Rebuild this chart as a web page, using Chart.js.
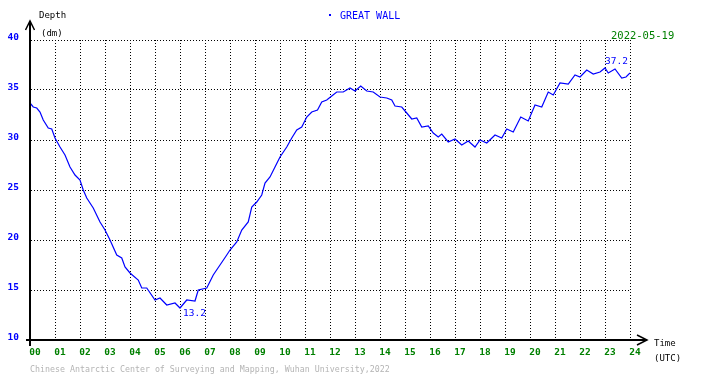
<!DOCTYPE html>
<html lang="en">
  <head>
    <meta charset="UTF-8" />
    <title>GREAT WALL</title>
    <script src="https://cdn.jsdelivr.net/npm/chart.js@4.4.1/dist/chart.umd.min.js"></script>
    <style>
      body { margin: 0; background: #fff; }
    </style>
  </head>
  <body>
    <canvas id="chart" width="710" height="378"></canvas>

    <script>
      //data
      const STATION = 'GREAT WALL';
      const DATE = '2022-05-19';
      const FOOTER = 'Chinese Antarctic Center of Surveying and Mapping, Wuhan University,2022';
      const hourTicks = ['00', '01', '02', '03', '04', '05', '06', '07', '08', '09', '10', '11', '12',
        '13', '14', '15', '16', '17', '18', '19', '20', '21', '22', '23', '24'];
      const depthTicks = [10, 15, 20, 25, 30, 35, 40];

      const hours = [0, 0.13, 0.27, 0.4, 0.53, 0.73, 0.87, 1.0, 1.2, 1.4, 1.6, 1.8, 2.0, 2.13, 2.27, 2.53,
        2.8, 3.0, 3.2, 3.47, 3.67, 3.8, 4.0, 4.33, 4.47, 4.67, 5.0, 5.2, 5.47, 5.8, 6.0, 6.27, 6.6, 6.73,
        7.07, 7.33, 7.6, 7.87, 8.0, 8.27, 8.47, 8.73, 8.87, 9.07, 9.27, 9.4, 9.6, 9.8, 10.0, 10.27, 10.47,
        10.67, 10.87, 11.07, 11.27, 11.5, 11.67, 11.87, 12.07, 12.27, 12.53, 12.8, 13.0, 13.23, 13.47,
        13.73, 14.0, 14.27, 14.47, 14.6, 14.87, 15.07, 15.27, 15.47, 15.67, 15.93, 16.13, 16.33, 16.47,
        16.73, 17.0, 17.27, 17.53, 17.8, 18.0, 18.27, 18.6, 18.87, 19.07, 19.33, 19.63, 19.93, 20.2,
        20.47, 20.73, 20.93, 21.2, 21.53, 21.8, 22.0, 22.27, 22.53, 22.8, 23.0, 23.13, 23.4, 23.67,
        23.84, 24.0];
      const depths = [33.7, 33.3, 33.2, 32.8, 32.0, 31.2, 31.1, 30.2, 29.3, 28.5, 27.3, 26.5, 26.0, 25.0,
        24.2, 23.2, 21.8, 21.0, 20.0, 18.5, 18.2, 17.3, 16.7, 16.0, 15.2, 15.2, 14.0, 14.2, 13.5, 13.7,
        13.2, 14.0, 13.9, 15.0, 15.2, 16.5, 17.5, 18.5, 19.0, 19.8, 21.0, 21.8, 23.3, 23.8, 24.5, 25.7,
        26.3, 27.3, 28.3, 29.3, 30.2, 31.0, 31.3, 32.3, 32.8, 33.0, 33.8, 34.0, 34.4, 34.8, 34.8, 35.2,
        34.9, 35.4, 34.9, 34.8, 34.3, 34.2, 34.0, 33.4, 33.3, 32.7, 32.1, 32.2, 31.3, 31.4, 30.7, 30.3,
        30.6, 29.8, 30.1, 29.5, 29.9, 29.3, 30.0, 29.7, 30.5, 30.2, 31.1, 30.8, 32.3, 31.9, 33.5, 33.3,
        34.8, 34.5, 35.7, 35.6, 36.5, 36.3, 37.0, 36.6, 36.8, 37.2, 36.7, 37.1, 36.2, 36.3, 36.7];

      const BLUE = '#0000ff';
      const GREEN = '#008000';
      const MONO = '"DejaVu Sans Mono", monospace';

      //extra drawing: arrows, titles, min/max labels
      const decorations = {
        id: 'decorations',
        afterDraw(chart) {
          const c = chart.ctx;
          const a = chart.chartArea;
          const xs = chart.scales.x;
          const ys = chart.scales.y;
          c.save();

          // axis extensions and arrow heads
          c.strokeStyle = '#000';
          c.lineWidth = 2;
          c.beginPath();
          c.moveTo(a.left, 21);
          c.lineTo(a.left, a.bottom + 6);
          c.moveTo(a.left - 4, a.bottom);
          c.lineTo(647, a.bottom);
          c.stroke();
          c.lineWidth = 1.5;
          c.beginPath();
          c.moveTo(a.left - 4.5, 30);
          c.lineTo(a.left, 21);
          c.lineTo(a.left + 4.5, 30);
          c.moveTo(637, a.bottom - 5);
          c.lineTo(647, a.bottom);
          c.lineTo(637, a.bottom + 5);
          c.stroke();

          // texts
          c.textBaseline = 'middle';
          c.textAlign = 'left';
          c.fillStyle = '#000';
          c.font = '9px ' + MONO;
          c.fillText('Depth', 39, 16);
          c.fillText('(dm)', 41, 34);
          c.fillText('Time', 654, 344);
          c.fillText('(UTC)', 654, 359);

          c.fillStyle = BLUE;
          c.fillRect(329, 14, 2, 2);
          c.font = '10px ' + MONO;
          c.fillText(STATION, 340, 16);

          c.fillStyle = GREEN;
          c.font = '10.5px ' + MONO;
          c.fillText(DATE, 611, 36);

          c.fillStyle = '#b4b4b4';
          c.font = '8.3px ' + MONO;
          c.fillText(FOOTER, 30, 370);

          // min / max values
          let iMin = 0, iMax = 0;
          depths.forEach((d, i) => {
            if (d < depths[iMin]) iMin = i;
            if (d > depths[iMax]) iMax = i;
          });
          c.fillStyle = BLUE;
          c.font = '9.5px ' + MONO;
          c.fillText(depths[iMin].toFixed(1), xs.getPixelForValue(hours[iMin]) + 3, ys.getPixelForValue(depths[iMin]) + 6);
          c.fillText(depths[iMax].toFixed(1), xs.getPixelForValue(hours[iMax]), ys.getPixelForValue(depths[iMax]) - 6);

          c.restore();
        }
      };

      //config
      const config = {
        type: 'scatter',
        data: {
          datasets: [
            {
              data: hours.map((h, i) => ({ x: h, y: depths[i] })),
              showLine: true,
              borderColor: BLUE,
              borderWidth: 1.2,
              pointRadius: 0,
              tension: 0
            }
          ]
        },
        options: {
          responsive: false,
          animation: false,
          devicePixelRatio: 1,
          layout: { padding: { left: 0, right: 80, top: 40, bottom: 0 } },
          plugins: {
            legend: { display: false },
            tooltip: { enabled: false }
          },
          scales: {
            x: {
              type: 'linear',
              min: 0,
              max: 24,
              afterFit: (scale) => { scale.height = 38; scale.paddingLeft = 0; scale.paddingRight = 0; },
              afterBuildTicks: (scale) => { scale.ticks = hourTicks.map((t, i) => ({ value: i })); },
              ticks: {
                autoSkip: false,
                maxRotation: 0,
                padding: 7,
                labelOffset: 5,
                color: GREEN,
                font: { family: MONO, size: 9.5, weight: 'bold' },
                callback: (v) => hourTicks[v]
              },
              grid: { color: '#000', lineWidth: 1, drawTicks: false },
              border: { display: true, color: '#000', width: 2, dash: [1, 2] }
            },
            y: {
              min: 10,
              max: 40,
              afterFit: (scale) => { scale.width = 30; },
              afterBuildTicks: (scale) => { scale.ticks = depthTicks.map((v) => ({ value: v })); },
              ticks: {
                padding: 11,
                labelOffset: -2,
                color: BLUE,
                font: { family: MONO, size: 9.5, weight: 'bold' }
              },
              grid: { color: '#000', lineWidth: 1, drawTicks: false },
              border: { display: true, color: '#000', width: 2, dash: [1, 2] }
            }
          }
        },
        plugins: [decorations]
      };

      //init
      const ctx = document.getElementById('chart');
      const chart = new Chart(ctx, config);
    </script>
  </body>
</html>
